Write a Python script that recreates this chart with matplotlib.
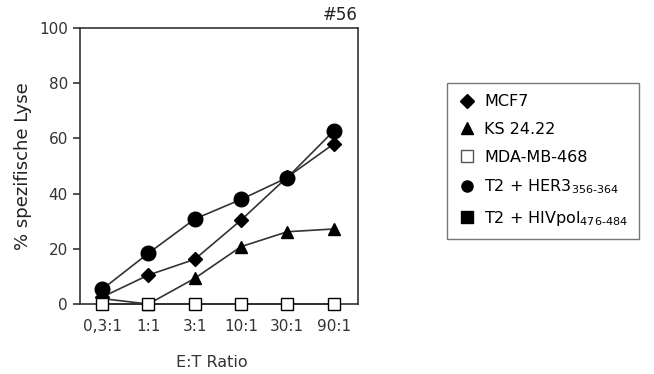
import matplotlib
matplotlib.use("Agg")
from matplotlib import pyplot as plt
from matplotlib.lines import Line2D

plt.rcParams['font.family'] = ['DejaVu Sans']

ratios = ['0,3:1', '1:1', '3:1', '10:1', '30:1', '90:1']
mcf7 = [2.5, 10.5, 16.2, 30.4, 46.0, 58.0]
ks2422 = [2.0, 0.0, 9.3, 20.8, 26.2, 27.2]
mda468 = [0, 0, 0, 0, 0, 0]
t2_her3 = [5.3, 18.4, 30.8, 37.9, 45.8, 62.7]
t2_hivpol = [0, 0, 0, 0, 0, 0]

x = list(range(len(ratios)))
lc = '#333333'

fig = plt.figure(figsize=(6.54, 3.74), dpi=100)
ax = fig.add_axes([0.122, 0.187, 0.425, 0.738])

ax.plot(x, t2_hivpol, color=lc, lw=1.2, marker='s', ms=7.5, mfc='black', mec='black', zorder=2, clip_on=False)
ax.plot(x, ks2422, color=lc, lw=1.2, marker='^', ms=9, mfc='black', mec='black', zorder=3, clip_on=False)
ax.plot(x, mcf7, color=lc, lw=1.2, marker='D', ms=7.5, mfc='black', mec='black', zorder=3, clip_on=False)
ax.plot(x, t2_her3, color=lc, lw=1.2, marker='o', ms=10.5, mfc='black', mec='black', zorder=3, clip_on=False)
ax.plot(x, mda468, color=lc, lw=1.2, marker='s', ms=8, mfc='white', mec='black', mew=1.0, zorder=4, clip_on=False)

ax.set_xlim(-0.48, 5.52)
ax.set_ylim(0, 100)
ax.set_yticks([0, 20, 40, 60, 80, 100])
ax.set_xticks(x)
ax.set_xticklabels(ratios)
ax.tick_params(axis='both', labelsize=11, colors='#333333', labelcolor='#333333')
ax.tick_params(axis='y', length=5, width=1.2)
ax.tick_params(axis='x', length=3, width=1, pad=8)
for s in ax.spines.values():
    s.set_linewidth(1.2)
    s.set_color('#333333')

ax.set_ylabel('% spezifische Lyse', fontsize=13, color='#222222', labelpad=5)
ax.set_xlabel('E:T Ratio', fontsize=11.5, color='#333333')
ax.xaxis.set_label_coords(0.475, -0.185)
ax.text(1.0, 1.015, '#56', transform=ax.transAxes, ha='right', va='bottom', fontsize=12, color='#222222')

handles = [
    Line2D([], [], ls='none', marker='D', ms=7, mfc='black', mec='black'),
    Line2D([], [], ls='none', marker='^', ms=8, mfc='black', mec='black'),
    Line2D([], [], ls='none', marker='s', ms=8, mfc='white', mec='#555555'),
    Line2D([], [], ls='none', marker='o', ms=8, mfc='black', mec='black'),
    Line2D([], [], ls='none', marker='s', ms=8, mfc='black', mec='black'),
]
labels = ['MCF7', 'KS 24.22', 'MDA-MB-468',
          r'T2 + HER3$_{\text{356-364}}$', r'T2 + HIVpol$_{\text{476-484}}$']
leg = fig.legend(handles, labels, loc='upper left', bbox_to_anchor=(0.684, 0.778),
                 bbox_transform=fig.transFigure, fontsize=11.5, frameon=True,
                 fancybox=False, edgecolor='#555555', handlelength=1.0,
                 handletextpad=0.6, labelspacing=0.8, borderpad=0.7,
                 borderaxespad=0)
leg.get_frame().set_linewidth(1.0)

fig.savefig('out.png', dpi=100)
